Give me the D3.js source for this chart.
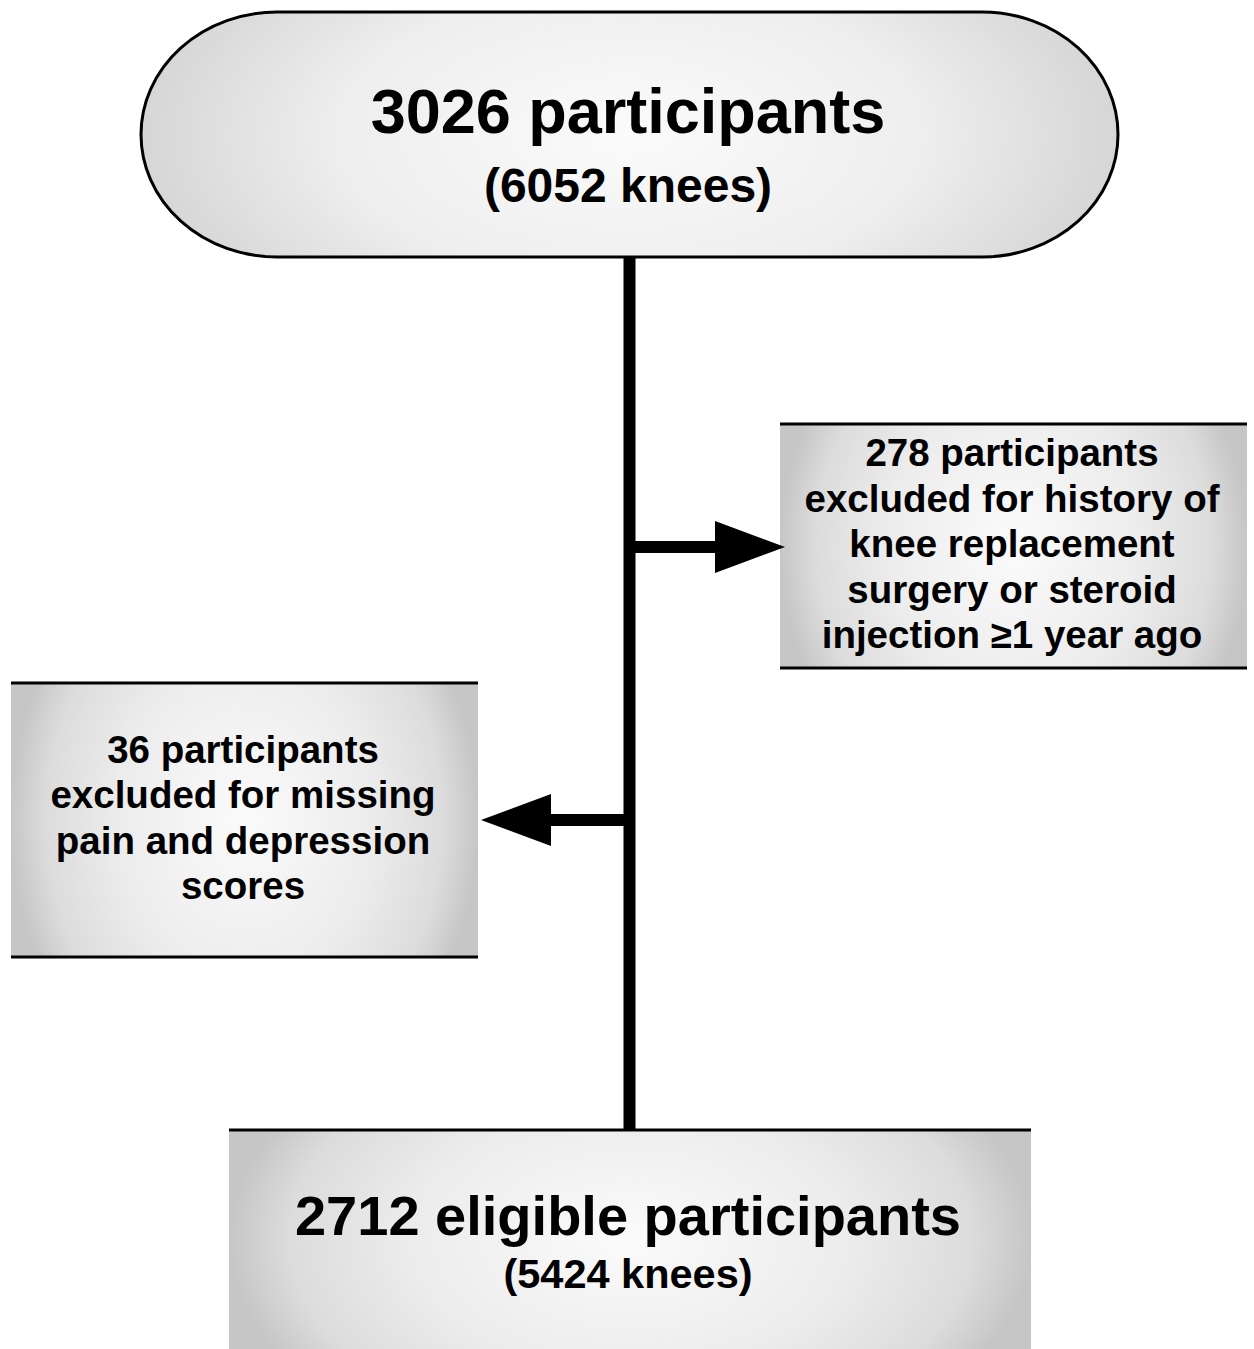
<!DOCTYPE html>
<html>
<head>
<meta charset="utf-8">
<script src="https://cdn.jsdelivr.net/npm/d3@7"></script>
<style>
  html, body { margin: 0; padding: 0; background: #fff; }
  svg { display: block; }
  text { font-family: "Liberation Sans", Arial, Helvetica, sans-serif; font-weight: bold; fill: #000; }
</style>
</head>
<body>
<div id="flow"></div>
<script>
// counts shown in the flow
var startCount = 3026, startKnees = 6052;
var excludeCounts = [278, 36];
var finalCount = 2712, finalKnees = 5424;

// text of the exclusion boxes
var excludeLines = [
  [excludeCounts[0] + " participants", "excluded for history of", "knee replacement", "surgery or steroid", "injection \u22651 year ago"],
  [excludeCounts[1] + " participants", "excluded for missing", "pain and depression", "scores"]
];

var W = 1254, H = 1349;
var svg = d3.select("#flow").append("svg")
    .attr("width", W)
    .attr("height", H);

var defs = svg.append("defs");
function grad(id, stops, sy) {
  var g = defs.append("radialGradient").attr("id", id)
      .attr("cx", 0.5).attr("cy", 0.5).attr("r", 0.5)
      .attr("gradientTransform", "translate(0.5,0.5) scale(1," + sy + ") translate(-0.5,-0.5)");
  stops.forEach(function(s) {
    g.append("stop").attr("offset", s[0]).attr("stop-color", s[1]);
  });
}
grad("gPill", [["0%", "#fbfbfb"], ["60%", "#eeeeee"], ["100%", "#d6d6d6"]], 2.0);
grad("gBox", [["0%", "#fbfbfb"], ["55%", "#ececec"], ["85%", "#dcdcdc"], ["100%", "#c6c6c6"]], 2.2);

var cx = 629.5;

// top pill
svg.append("rect")
    .attr("x", 141).attr("y", 12)
    .attr("width", 977).attr("height", 245)
    .attr("rx", 136).attr("ry", 122.5)
    .attr("fill", "url(#gPill)")
    .attr("stroke", "#000").attr("stroke-width", 3);

svg.append("text").attr("x", 628).attr("y", 133)
    .attr("text-anchor", "middle").style("font-size", "63px")
    .text(startCount + " participants");
svg.append("text").attr("x", 628).attr("y", 202)
    .attr("text-anchor", "middle").style("font-size", "48px")
    .text("(" + startKnees + " knees)");

// side boxes: filled, with rules on top and bottom only
function sideBox(x0, x1, y0, y1) {
  svg.append("rect").attr("x", x0).attr("y", y0)
      .attr("width", x1 - x0).attr("height", y1 - y0)
      .attr("fill", "url(#gBox)");
  [y0, y1].forEach(function(y) {
    svg.append("line").attr("x1", x0).attr("x2", x1)
        .attr("y1", y).attr("y2", y)
        .attr("stroke", "#000").attr("stroke-width", 3);
  });
}
sideBox(780, 1247, 424, 668);
sideBox(11, 478, 683, 957);

// bottom box (runs off the page)
svg.append("rect").attr("x", 229).attr("y", 1130)
    .attr("width", 802).attr("height", H - 1130)
    .attr("fill", "url(#gBox)");
svg.append("line").attr("x1", 229).attr("x2", 1031)
    .attr("y1", 1130).attr("y2", 1130)
    .attr("stroke", "#000").attr("stroke-width", 3);

// main trunk
svg.append("line").attr("x1", cx).attr("x2", cx)
    .attr("y1", 257).attr("y2", 1130)
    .attr("stroke", "#000").attr("stroke-width", 12);

// branch arrows
function arrow(y, xTip) {
  var dir = xTip > cx ? 1 : -1;
  var headLen = 70, half = 26;
  svg.append("line").attr("x1", cx).attr("x2", xTip - dir * headLen + dir * 2)
      .attr("y1", y).attr("y2", y)
      .attr("stroke", "#000").attr("stroke-width", 12);
  svg.append("path")
      .attr("d", d3.line()([[xTip, y], [xTip - dir * headLen, y - half], [xTip - dir * headLen, y + half]]) + "Z")
      .attr("fill", "#000");
}
arrow(547, 785);
arrow(820, 481);

// exclusion text
function lines(arr, x, yFirst, step) {
  svg.append("g").selectAll("text")
    .data(arr)
    .enter().append("text")
      .attr("x", x)
      .attr("y", function(d, i) { return yFirst + i * step; })
      .attr("text-anchor", "middle")
      .style("font-size", "38.5px")
      .text(function(d) { return d; });
}
lines(excludeLines[0], 1012, 466, 45.5);
lines(excludeLines[1], 243, 763, 45.3);

// final text
svg.append("text").attr("x", 628).attr("y", 1235)
    .attr("text-anchor", "middle").style("font-size", "56px")
    .text(finalCount + " eligible participants");
svg.append("text").attr("x", 628).attr("y", 1288)
    .attr("text-anchor", "middle").style("font-size", "41.5px")
    .text("(" + finalKnees + " knees)");
</script>
</body>
</html>
